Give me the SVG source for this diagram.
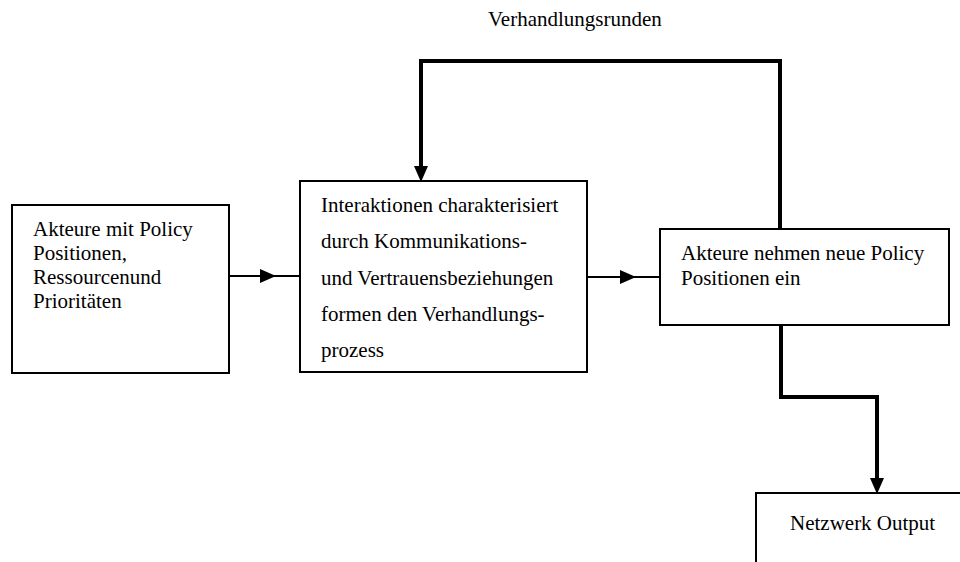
<svg xmlns="http://www.w3.org/2000/svg" width="960" height="562" viewBox="0 0 960 562">
<style>
.box{fill:#fff;stroke:#000;stroke-width:2}
.t{font-family:'Liberation Serif','DejaVu Serif',serif;font-size:21px;fill:#000}
.thin{fill:none;stroke:#000;stroke-width:2}
.thick{fill:none;stroke:#000;stroke-width:4;stroke-linejoin:miter}
</style>
<defs>
<marker id="ah" markerUnits="userSpaceOnUse" markerWidth="16" markerHeight="14" refX="16" refY="7" orient="auto">
<path d="M0,0 L16,7 L0,14 z" fill="#000"/>
</marker>
</defs>
<rect width="960" height="562" fill="#fff"/>
<g id="connectors">
<path class="thin" d="M229,276 H300"/>
<path class="thin" d="M229,276 H276" marker-end="url(#ah)"/>
<path class="thin" d="M587,277 H660"/>
<path class="thin" d="M587,277 H636" marker-end="url(#ah)"/>
<path class="thick" d="M780,229 V61 H421 V170"/>
<path class="thin" d="M421,165 V182" marker-end="url(#ah)"/>
<path class="thick" d="M781,325 V397 H877 V482"/>
<path class="thin" d="M877,478 V494" marker-end="url(#ah)"/>
</g>
<g id="label-verhandlungsrunden">
<text class="t" x="488" y="26">Verhandlungsrunden</text>
</g>
<g id="node-akteure">
<rect class="box" x="12" y="205" width="217" height="168"/>
<text class="t" x="33" y="236">Akteure mit Policy</text>
<text class="t" x="33" y="260">Positionen,</text>
<text class="t" x="33" y="284">Ressourcenund</text>
<text class="t" x="33" y="308">Prioritäten</text>
</g>
<g id="node-interaktionen">
<rect class="box" x="300" y="181" width="287" height="191"/>
<text class="t" x="321" y="212">Interaktionen charakterisiert</text>
<text class="t" x="321" y="248">durch Kommunikations-</text>
<text class="t" x="321" y="285">und Vertrauensbeziehungen</text>
<text class="t" x="321" y="321">formen den Verhandlungs-</text>
<text class="t" x="321" y="357">prozess</text>
</g>
<g id="node-neue-positionen">
<rect class="box" x="660" y="229" width="289" height="96"/>
<text class="t" x="681" y="260">Akteure nehmen neue Policy</text>
<text class="t" x="681" y="285">Positionen ein</text>
</g>
<g id="node-output">
<rect class="box" x="756" y="493" width="300" height="200"/>
<text class="t" x="790" y="530">Netzwerk Output</text>
</g>
</svg>
